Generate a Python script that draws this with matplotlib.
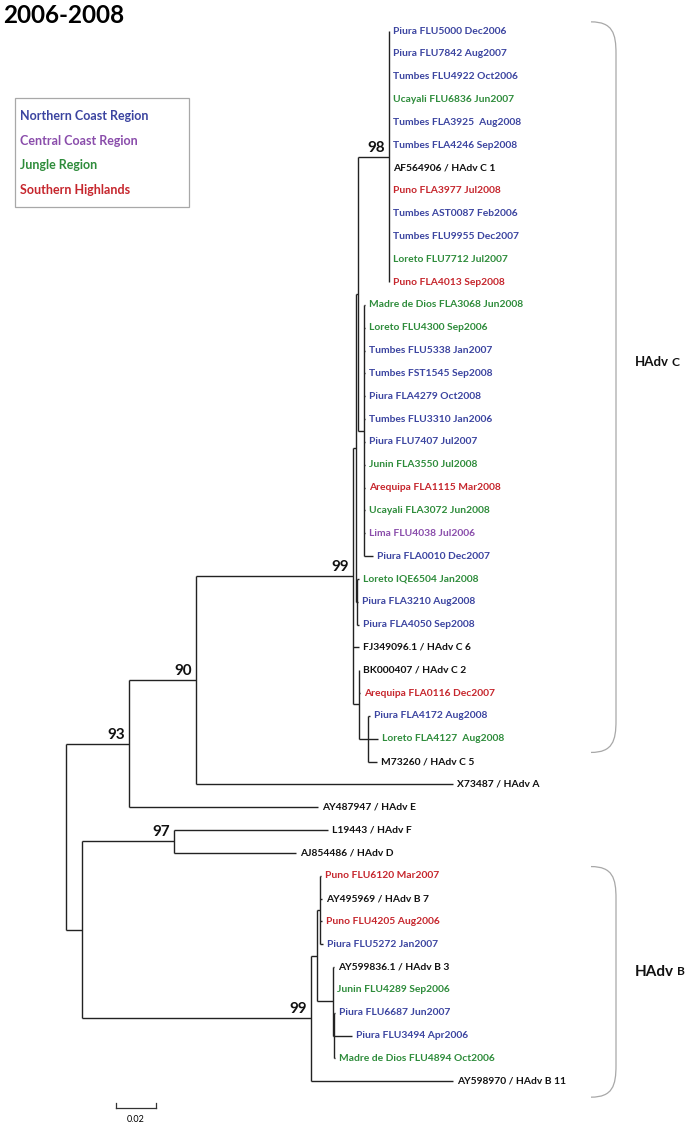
import matplotlib
matplotlib.use('Agg')
import matplotlib.pyplot as plt
import matplotlib.transforms as mtransforms
from matplotlib.path import Path
from matplotlib.patches import PathPatch, Rectangle

plt.rcParams['font.family'] = ['Lato', 'DejaVu Sans']

title = '2006-2008'

# tip labels, top to bottom
leaf_names = [
    'Piura FLU5000 Dec2006', 'Piura FLU7842 Aug2007', 'Tumbes FLU4922 Oct2006',
    'Ucayali FLU6836 Jun2007', 'Tumbes FLA3925  Aug2008', 'Tumbes FLA4246 Sep2008',
    'AF564906 / HAdv C 1', 'Puno FLA3977 Jul2008', 'Tumbes AST0087 Feb2006',
    'Tumbes FLU9955 Dec2007', 'Loreto FLU7712 Jul2007', 'Puno FLA4013 Sep2008',
    'Madre de Dios FLA3068 Jun2008', 'Loreto FLU4300 Sep2006', 'Tumbes FLU5338 Jan2007',
    'Tumbes FST1545 Sep2008', 'Piura FLA4279 Oct2008', 'Tumbes FLU3310 Jan2006',
    'Piura FLU7407 Jul2007', 'Junin FLA3550 Jul2008', 'Arequipa FLA1115 Mar2008',
    'Ucayali FLA3072 Jun2008', 'Lima FLU4038 Jul2006', 'Piura FLA0010 Dec2007',
    'Loreto IQE6504 Jan2008', 'Piura FLA3210 Aug2008', 'Piura FLA4050 Sep2008',
    'FJ349096.1 / HAdv C 6', 'BK000407 / HAdv C 2', 'Arequipa FLA0116 Dec2007',
    'Piura FLA4172 Aug2008', 'Loreto FLA4127  Aug2008', 'M73260 / HAdv C 5',
    'X73487 / HAdv A', 'AY487947 / HAdv E', 'L19443 / HAdv F', 'AJ854486 / HAdv D',
    'Puno FLU6120 Mar2007', 'AY495969 / HAdv B 7', 'Puno FLU4205 Aug2006',
    'Piura FLU5272 Jan2007', 'AY599836.1 / HAdv B 3', 'Junin FLU4289 Sep2006',
    'Piura FLU6687 Jun2007', 'Piura FLU3494 Apr2006', 'Madre de Dios FLU4894 Oct2006',
    'AY598970 / HAdv B 11',
]
# N = northern coast, C = central coast, J = jungle, S = southern highlands, R = reference strain
leaf_region = [
    'N', 'N', 'N', 'J', 'N', 'N', 'R', 'S', 'N', 'N', 'J', 'S',
    'J', 'J', 'N', 'N', 'N', 'N', 'N', 'J', 'S', 'J', 'C', 'N',
    'J', 'N', 'N', 'R', 'R', 'S', 'N', 'J', 'R',
    'R', 'R', 'R', 'R',
    'S', 'R', 'S', 'N', 'R', 'J', 'N', 'N', 'J', 'R',
]

region_names = ['Northern Coast Region', 'Central Coast Region', 'Jungle Region', 'Southern Highlands']
region_codes = ['N', 'C', 'J', 'S']
region_colors = {'N': '#3b44a0', 'C': '#8a4dab', 'J': '#2e8c3b', 'S': '#c6262d', 'R': '#111111'}

# tree topology (ints are tips)
children = {
    'root': ['n93', 'nlow'],
    'n93': ['n90', 34],
    'n90': ['n99c', 33],
    'n99c': ['nB', 27, 'nK'],
    'nB': ['nE', 'n25'],
    'nE': ['n98', 'nC'],
    'n98': list(range(0, 12)),
    'nC': list(range(12, 24)),
    'n25': [24, 25, 26],
    'nK': [28, 29, 'nM'],
    'nM': [30, 31, 32],
    'nlow': ['n97', 'n99b'],
    'n97': [35, 36],
    'n99b': ['nb1', 46],
    'nb1': ['nb2', 'nb3'],
    'nb2': [37, 38, 39, 40],
    'nb3': [41, 42, 'nb4'],
    'nb4': [43, 44, 45],
}

# branch lengths (substitutions per site)
branch_len = {
    'n93': 0.0315, 'nlow': 0.008,
    'n90': 0.0335, 34: 0.0945,
    'n99c': 0.0785, 33: 0.1285,
    'nB': 0.0015, 27: 0.003, 'nK': 0.003,
    'nE': 0.001, 'n25': 0.0005,
    'n98': 0.0155, 'nC': 0.003,
    12: 0.0005, 13: 0.0005, 14: 0.0005, 15: 0.0005, 16: 0.0005, 17: 0.0005,
    18: 0.0005, 19: 0.0005, 20: 0.0005, 21: 0.0005, 22: 0.0005, 23: 0.0045,
    24: 0.001, 25: 0.0005, 26: 0.001,
    29: 0.0005, 'nM': 0.0045, 30: 0.001, 31: 0.005, 32: 0.0045,
    'n97': 0.046, 35: 0.077, 36: 0.061,
    'n99b': 0.1145, 46: 0.071,
    'nb1': 0.003, 'nb2': 0.0015, 37: 0.0005, 38: 0.001, 39: 0.001, 40: 0.0015,
    'nb3': 0.008, 41: 0.0005, 'nb4': 0.0005, 43: 0.0005, 44: 0.009, 45: 0.0005,
}

# bootstrap values
support = {'n98': 98, 'n99c': 99, 'n90': 90, 'n93': 93, 'n97': 97, 'n99b': 99}

scale_len = 0.02

# ---- layout ----
depth = {}
ypos = {}


def layout(node, d):
    depth[node] = d
    if node in children:
        for c in children[node]:
            layout(c, d + branch_len.get(c, 0.0))
        ypos[node] = (ypos[children[node][0]] + ypos[children[node][-1]]) / 2
    else:
        ypos[node] = node


layout('root', 0.0)

W, H = 690, 1126
px = 0.0005       # substitutions per pixel
pitch = 22.83     # pixels between tips
fig = plt.figure(figsize=(W / 100, H / 100), dpi=100)
ax = fig.add_axes([0, 0, 1, 1])
ax.set_xlim(-66 * px, (W - 66) * px)
ax.set_ylim((H - 31) / pitch, -31 / pitch)
ax.axis('off')

line_kw = dict(color='#222222', lw=1.0, solid_capstyle='butt')
for node, kids in children.items():
    x = depth[node]
    ax.plot([x, x], [ypos[kids[0]], ypos[kids[-1]]], **line_kw)
    for c in kids:
        ax.plot([x, depth[c]], [ypos[c], ypos[c]], **line_kw)

for i, name in enumerate(leaf_names):
    ax.annotate(name, (depth[i], i), xytext=(4, 0), textcoords='offset pixels',
                ha='left', va='center', fontsize=7.4, fontweight='bold',
                color=region_colors[leaf_region[i]])

for node, val in support.items():
    ax.annotate(str(val), (depth[node], ypos[node]), xytext=(-4, 2), textcoords='offset pixels',
                ha='right', va='bottom', fontsize=11, fontweight='bold', color='#111111')

# scale bar
sx0 = 50 * px
sy = (1108 - 31) / pitch
ax.plot([sx0, sx0 + scale_len], [sy, sy], color='#333333', lw=0.9)
for xx in [sx0, sx0 + scale_len]:
    ax.plot([xx, xx], [sy, sy - 0.22], color='#333333', lw=0.9)
ax.text(sx0 + scale_len / 2, sy + 0.3, '%.2f' % scale_len, ha='center', va='top', fontsize=6.5)

# clade brackets
trans = mtransforms.blended_transform_factory(ax.transAxes, ax.transData)


def bracket(top, bottom, label, y_label, size, ratio):
    x0, x1 = 591 / W, 616 / W
    r = 1.4
    verts = [(x0, top), (x1 - 0.005, top), (x1, top + 0.5), (x1, top + r),
             (x1, bottom - r), (x1, bottom - 0.5), (x1 - 0.005, bottom), (x0, bottom)]
    codes = [Path.MOVETO, Path.CURVE4, Path.CURVE4, Path.CURVE4,
             Path.LINETO, Path.CURVE4, Path.CURVE4, Path.CURVE4]
    ax.add_patch(PathPatch(Path(verts, codes), transform=trans, fill=False,
                           edgecolor='#a8a8a8', lw=0.9))
    t = ax.text(635 / W, y_label, 'HAdv', transform=trans, ha='left', va='center',
                fontsize=size, fontweight='bold', color='#111111')
    ax.annotate(label, xy=(1, 0.5), xycoords=t, xytext=(3, 0), textcoords='offset pixels',
                ha='left', va='center', fontsize=size * ratio, fontweight='bold', color='#111111')


bracket(-0.4, 31.6, 'C', 14.5, 9.5, 0.92)
bracket(36.6, 46.7, 'B', 41.2, 11, 0.78)

# title and legend
fig.text(3 / W, 1 - 4 / H, title, ha='left', va='top', fontsize=17.5, fontweight='bold')
fig.add_artist(Rectangle((15 / W, 1 - 207 / H), 174 / W, 109 / H, transform=fig.transFigure,
                         fill=False, edgecolor='#a8a8a8', lw=0.9))
for k, (name, code) in enumerate(zip(region_names, region_codes)):
    fig.text(20 / W, 1 - (116 + 24.5 * k) / H, name, ha='left', va='center',
             fontsize=9, fontweight='bold', color=region_colors[code])

fig.savefig('out.png', dpi=100)
